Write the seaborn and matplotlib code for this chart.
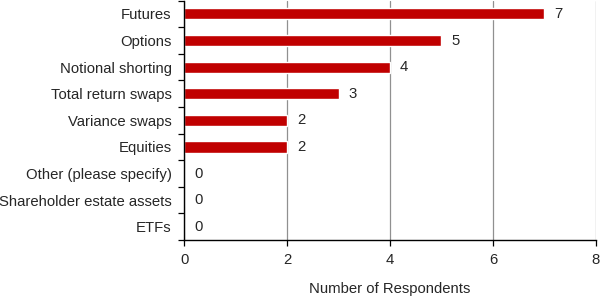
import pandas as pd
import matplotlib.pyplot as plt
import seaborn as sns
from matplotlib.ticker import FixedLocator

# Datos
categorias = ['Futures', 'Options', 'Notional shorting', 'Total return swaps',
              'Variance swaps', 'Equities', 'Other (please specify)',
              'Shareholder estate assets', 'ETFs']
respuestas = [7, 5, 4, 3, 2, 2, 0, 0, 0]
ticks_x = [0, 2, 4, 6, 8]

df = pd.DataFrame({'Instrumento': categorias, 'Respuestas': respuestas})

sns.set_style('white')
plt.rcParams['font.family'] = ['Liberation Sans', 'DejaVu Sans']
fs = 10.7

fig = plt.figure(figsize=(6, 2.99), dpi=100)
ax = fig.add_axes([0.307, 0.197, 0.686, 0.801])

sns.barplot(data=df, x='Respuestas', y='Instrumento', orient='h',
            color='#C00000', saturation=1, width=0.42, ax=ax)

ax.bar_label(ax.containers[0], labels=[str(v) for v in respuestas],
             padding=7, fontsize=fs)

ax.set_xlim(0, 8)
ax.set_ylim(len(categorias) - 0.5, -0.5)
ax.set_xticks(ticks_x)
ax.xaxis.grid(True, color='#909090', linewidth=0.9)
ax.set_axisbelow(True)

# marcas del eje y entre categorías
ax.yaxis.set_minor_locator(FixedLocator([i + 0.5 for i in range(-1, len(categorias))]))
ax.tick_params(axis='y', which='major', length=0, labelsize=fs, pad=9)
ax.tick_params(axis='y', which='minor', length=4, width=0.9, color='black', left=True)
ax.tick_params(axis='x', which='major', length=4, width=0.9, color='black',
               bottom=True, labelsize=fs, pad=5)

for lado in ['top', 'right']:
    ax.spines[lado].set_visible(False)
for lado in ['left', 'bottom']:
    ax.spines[lado].set_color('black')
    ax.spines[lado].set_linewidth(1.0)

ax.set_ylabel('')
ax.set_xlabel('Number of Respondents', fontsize=fs, labelpad=11)

plt.savefig('out.png', dpi=100)
